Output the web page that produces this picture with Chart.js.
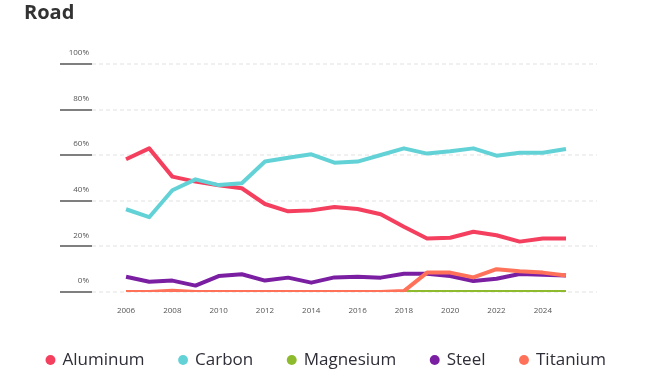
<!DOCTYPE html>
<html>
<head>
<meta charset="utf-8">
<script src="https://cdn.jsdelivr.net/npm/chart.js@4"></script>
<style>
  body { margin: 0; background: #fff; }
  #wrap { position: relative; width: 653px; height: 379px; }
  #title {
    position: absolute; left: 24px; top: 1px;
    font: bold 20px "Open Sans", sans-serif; line-height: 22px; color: #333;
  }
</style>
</head>
<body>
<div id="wrap">
  <div id="title">Road</div>
  <canvas id="roadChart" width="653" height="379"></canvas>
</div>
<script>
const years = [2006, 2007, 2008, 2009, 2010, 2011, 2012, 2013, 2014, 2015,
  2016, 2017, 2018, 2019, 2020, 2021, 2022, 2023, 2024, 2025];
const xTicks = [2006, 2008, 2010, 2012, 2014, 2016, 2018, 2020, 2022, 2024];
const yTicks = [0, 20, 40, 60, 80, 100];

const aluminum = [58.2, 63.0, 50.6, 48.4, 46.8, 45.5, 38.6, 35.4, 35.8, 37.3,
  36.4, 34.1, 28.6, 23.5, 23.8, 26.4, 24.9, 22.1, 23.5, 23.5];
const carbon = [36.3, 32.8, 44.6, 49.4, 46.9, 47.7, 57.2, 58.9, 60.4, 56.7,
  57.2, 60.1, 63.0, 60.7, 61.7, 63.0, 59.8, 61.1, 61.1, 62.7];
const magnesium = [0, 0, 0, 0, 0, 0, 0, 0, 0, 0,
  0, 0, 0, 0, 0, 0, 0, 0, 0, 0];
const steel = [6.7, 4.5, 5.0, 2.8, 7.0, 7.8, 5.0, 6.3, 4.1, 6.4,
  6.7, 6.3, 8.0, 8.0, 7.0, 4.8, 5.8, 7.9, 7.6, 7.2];
const titanium = [0, 0, 0.5, 0, 0, 0, 0, 0, 0, 0,
  0, 0, 0.4, 8.5, 8.5, 6.4, 10.0, 9.1, 8.5, 7.2];

const seriesNames = ["Aluminum", "Carbon", "Magnesium", "Steel", "Titanium"];
const seriesData = [aluminum, carbon, magnesium, steel, titanium];
const seriesColors = ["#F43F5E", "#63D2D6", "#8DBB2D", "#7B1FA2", "#FF7259"];

const FONT = "'Open Sans', sans-serif";

// shrink legend box so its items sit lower than the default padding allows
const legendHeight = {
  id: "legendHeight",
  beforeInit(chart) {
    const origFit = chart.legend.fit;
    chart.legend.fit = function () {
      origFit.bind(chart.legend)();
      this.height = 62.5;
    };
  }
};

new Chart(document.getElementById("roadChart"), {
  type: "line",
  data: {
    labels: years,
    datasets: seriesNames.map((name, i) => ({
      label: name,
      data: seriesData[i],
      borderColor: seriesColors[i],
      backgroundColor: seriesColors[i],
      borderWidth: 4,
      pointRadius: 0,
      tension: 0,
      borderJoinStyle: "round",
      order: seriesNames.length - i
    }))
  },
  options: {
    responsive: false,
    animation: false,
    layout: { padding: { left: 0, right: 0, top: 64, bottom: 0 } },
    plugins: {
      tooltip: { enabled: false },
      legend: {
        position: "bottom",
        labels: {
          usePointStyle: true,
          pointStyle: "circle",
          boxWidth: 7,
          boxHeight: 7,
          padding: 35,
          color: "#2e2e38",
          font: { family: FONT, size: 17 },
          sort: (a, b) => a.datasetIndex - b.datasetIndex,
          generateLabels: (chart) =>
            Chart.defaults.plugins.legend.labels.generateLabels(chart)
              .map(l => ({ ...l, lineWidth: 0 }))
        }
      }
    },
    scales: {
      x: {
        type: "linear",
        min: 2004.53,
        max: 2026.34,
        afterBuildTicks: (scale) => {
          scale.ticks = xTicks.map(v => ({ value: v }));
        },
        afterFit: (scale) => { scale.height = 24.5; },
        grid: { display: false, drawTicks: false },
        border: { display: false },
        ticks: {
          padding: 14,
          maxRotation: 0,
          color: "#555",
          font: { family: FONT, size: 8 },
          callback: (v) => String(v)
        }
      },
      y: {
        min: 0,
        max: 100,
        afterBuildTicks: (scale) => {
          scale.ticks = yTicks.map(v => ({ value: v }));
        },
        afterFit: (scale) => { scale.width = 92; },
        border: { display: false, dash: [4, 3] },
        grid: {
          color: "#f0f0f0",
          lineWidth: 2,
          tickLength: 32,
          tickColor: "#7f7f7f",
          tickWidth: 2,
          tickBorderDash: []
        },
        ticks: {
          padding: -29,
          labelOffset: -11,
          color: "#555",
          font: { family: FONT, size: 8 },
          callback: (v) => v + "%"
        }
      },
      // empty right-hand axis, only reserves the right margin
      yRight: {
        position: "right",
        display: true,
        grid: { display: false, drawTicks: false },
        border: { display: false },
        ticks: { display: false },
        afterFit: (scale) => { scale.width = 56; }
      }
    }
  },
  plugins: [legendHeight]
});
</script>
</body>
</html>
